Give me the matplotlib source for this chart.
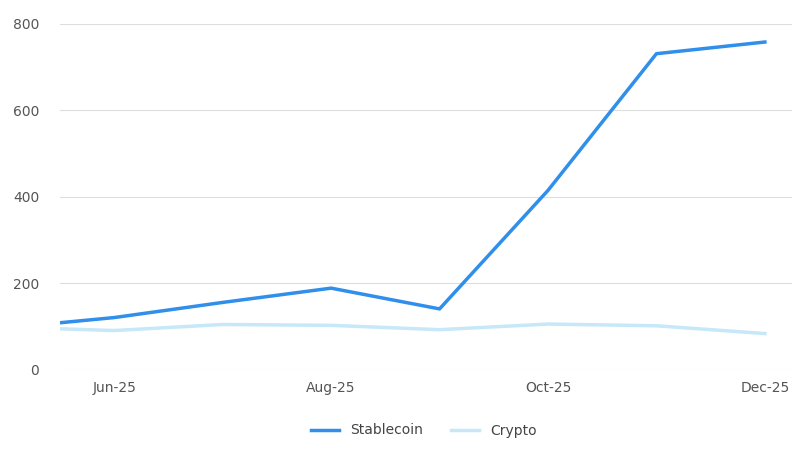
import matplotlib
matplotlib.use("Agg")
import matplotlib.pyplot as plt

x_pos = [-0.5, 0, 1, 2, 3, 4, 5, 6]
tick_pos = [0, 2, 4, 6]
tick_labels = ["Jun-25", "Aug-25", "Oct-25", "Dec-25"]
stablecoin = [109, 121, 156, 189, 141, 415, 731, 758]
crypto = [95, 91, 105, 103, 93, 106, 102, 84]

fig = plt.figure(figsize=(8, 4.5), dpi=100)
ax = fig.add_axes([0.075, 0.178, 0.915, 0.769])
ax.plot(x_pos, stablecoin, color="#2f8fea", lw=2.5, label="Stablecoin")
ax.plot(x_pos, crypto, color="#c6e8f8", lw=2.5, label="Crypto")
ax.set_xlim(-0.5, 6.25)
ax.set_ylim(0, 800)
ax.set_yticks([0, 200, 400, 600, 800])
ax.set_xticks(tick_pos)
ax.set_xticklabels(tick_labels)
ax.grid(axis="y", color="#dddddd", lw=0.8)
ax.set_axisbelow(True)
for s in ax.spines.values():
    s.set_visible(False)
ax.tick_params(length=0, colors="#555555", labelsize=10)
ax.tick_params(axis="y", pad=15)
ax.tick_params(axis="x", pad=8)
fig.legend(loc="lower center", bbox_to_anchor=(0.53, 0.0), ncol=2, frameon=False,
           fontsize=10, handlelength=2, labelcolor="#444444")
fig.savefig("out.png")
